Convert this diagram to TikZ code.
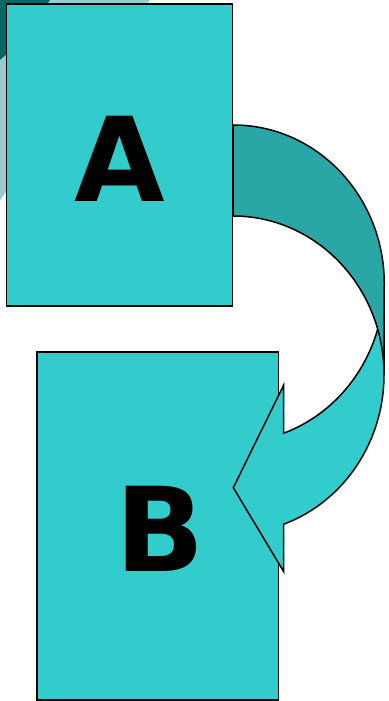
\documentclass[tikz,border=0pt]{standalone}
\usepackage{fontspec}
\setmainfont{DejaVu Sans}
\usepackage{tikz}
\definecolor{boxfill}{HTML}{33CCCC}
\definecolor{bandback}{HTML}{2BA6A6}
\definecolor{cornerdark}{HTML}{006865}
\definecolor{cornerlight}{HTML}{99CCCC}

\begin{document}
\begin{tikzpicture}[
  x=1pt, y=-1pt,
  box/.style={draw, line width=1.5pt, fill=boxfill, inner sep=0pt},
  letter/.style={inner sep=0pt, font=\fontsize{117}{117}\selectfont\bfseries},
  band/.style={draw, line width=1.5pt}
]
\useasboundingbox (0,0) rectangle (388,701);

% corner of the slide background
\begin{scope}
\clip (0,0) rectangle (388,701);
\fill[cornerlight] (0,0) -- (150,0) .. controls (95,70) and (45,140) .. (0,200) -- cycle;
\fill[cornerdark] (0,0) -- (50,0) .. controls (35,22) and (18,45) .. (0,60) -- cycle;
\end{scope}

\node[box, minimum width=226pt, minimum height=302pt] (boxA) at (119.5,155) {};
\node[box, minimum width=241.5pt, minimum height=348pt] (boxB) at (157.75,526) {};
\node[letter] (labA) at ([yshift=-3.5pt]boxA.center) {A};
\node[letter] (labB) at ([xshift=2pt,yshift=-3pt]boxB.center) {B};

% curved arrow: front face, then back face
\filldraw[band, fill=boxfill] (384,283.7)
  arc[start angle=0, end angle=70.38, x radius=151, y radius=158.7]
  -- (283.7,385) -- (233.3,487.7) -- (283.7,571.7) -- (283.7,524.2)
  arc[start angle=70.38, end angle=0, x radius=151, y radius=158.7] -- cycle;
\filldraw[band, fill=bandback] (boxA.east |- 0,125)
  arc[start angle=-90, end angle=0, x radius=151, y radius=158.7]
  -- (384,374.7)
  arc[start angle=0, end angle=-90, x radius=151, y radius=158.7] -- cycle;
\end{tikzpicture}
\end{document}
